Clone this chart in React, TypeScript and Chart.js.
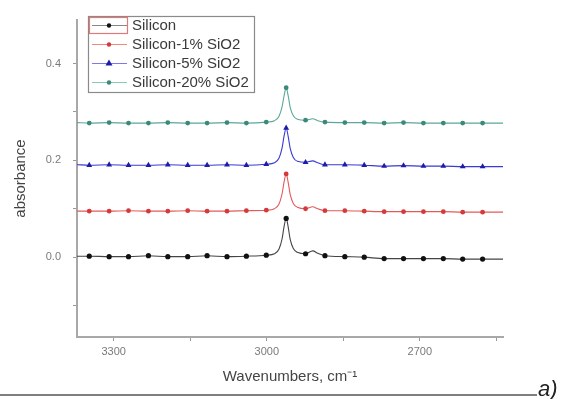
import React, { useEffect, useRef } from 'react';
import { Chart, registerables } from 'chart.js';

Chart.register(...registerables);

// Wavenumber positions (cm^-1) at which absorbance was read
const WAVENUMBERS = [3372, 3348, 3309, 3271, 3232, 3194, 3155, 3117, 3078, 3040, 3001, 2985, 2976, 2970, 2966, 2962, 2958, 2954, 2948, 2940, 2924, 2910, 2900, 2886, 2847, 2809, 2770, 2732, 2693, 2654, 2616, 2577, 2537];
// Positions carrying a symbol marker
const MARKER_WAVENUMBERS = [3348, 3309, 3271, 3232, 3194, 3155, 3117, 3078, 3040, 3001, 2962, 2924, 2886, 2847, 2809, 2770, 2732, 2693, 2654, 2616, 2577];

const SERIES_LABELS = ['Silicon', 'Silicon-1% SiO2', 'Silicon-5% SiO2', 'Silicon-20% SiO2'];

const SILICON = [0.002, 0.002, 0.001, 0.001, 0.003, 0.001, 0.001, 0.003, 0.001, 0.002, 0.004, 0.007, 0.017, 0.038, 0.064, 0.080, 0.062, 0.036, 0.018, 0.010, 0.007, 0.013, 0.008, 0.003, 0.001, 0.000, -0.003, -0.003, -0.003, -0.003, -0.004, -0.004, -0.004];
const SILICON_1 = [0.095, 0.095, 0.095, 0.096, 0.095, 0.095, 0.096, 0.095, 0.095, 0.096, 0.097, 0.100, 0.110, 0.131, 0.156, 0.172, 0.154, 0.129, 0.111, 0.103, 0.100, 0.104, 0.100, 0.096, 0.096, 0.095, 0.094, 0.094, 0.094, 0.094, 0.093, 0.093, 0.093];
const SILICON_5 = [0.191, 0.190, 0.191, 0.190, 0.190, 0.191, 0.190, 0.190, 0.191, 0.190, 0.192, 0.195, 0.205, 0.226, 0.251, 0.267, 0.249, 0.224, 0.206, 0.198, 0.196, 0.199, 0.195, 0.191, 0.191, 0.190, 0.188, 0.189, 0.188, 0.188, 0.187, 0.187, 0.187];
const SILICON_20 = [0.278, 0.277, 0.278, 0.277, 0.277, 0.278, 0.277, 0.277, 0.278, 0.277, 0.279, 0.282, 0.291, 0.311, 0.334, 0.350, 0.333, 0.309, 0.292, 0.285, 0.283, 0.286, 0.282, 0.279, 0.278, 0.278, 0.277, 0.278, 0.277, 0.277, 0.277, 0.277, 0.277];

const X_MIN = 2537;
const X_MAX = 3372;
const X_TICK_LABELS = [3300, 3000, 2700];
const Y_MIN = -0.165;
const Y_MAX = 0.49;
const Y_TICK_LABELS = [0.0, 0.2, 0.4];

const FONT = '"Liberation Sans", Arial, sans-serif';

const SERIES_VALUES = [SILICON, SILICON_1, SILICON_5, SILICON_20];
const LINE_COLORS = ['#444444', '#e25a5a', '#3a3ad6', '#5aa898'];
const LEGEND_LINE_COLORS = ['#888888', '#f08a78', '#7a7aee', '#8ac8b8'];
const POINT_COLORS = ['#111111', '#d43a3a', '#1c1ca8', '#3a8a7a'];
const POINT_STYLES = ['circle', 'circle', 'triangle', 'circle'];
const POINT_SIZES = [2.6, 2.4, 3.4, 2.4];

const legendPlugin = {
  id: 'insideLegend',
  afterDatasetsDraw(chart: any) {
    const ctx = chart.ctx;
    ctx.save();
    // box
    ctx.fillStyle = '#ffffff';
    ctx.fillRect(88, 16, 166, 76);
    ctx.strokeStyle = '#8a8a8a';
    ctx.lineWidth = 1.2;
    ctx.strokeRect(88.5, 16.5, 166, 76);
    const rows = [25, 44, 63, 82];
    chart.data.datasets.forEach((ds: any, i: number) => {
      const y = rows[i];
      ctx.strokeStyle = LEGEND_LINE_COLORS[i];
      ctx.lineWidth = 1;
      ctx.beginPath();
      ctx.moveTo(92, y + 0.5);
      ctx.lineTo(127, y + 0.5);
      ctx.stroke();
      ctx.fillStyle = POINT_COLORS[i];
      const mx = 109;
      if (POINT_STYLES[i] === 'triangle') {
        ctx.beginPath();
        ctx.moveTo(mx, y - 3.5);
        ctx.lineTo(mx + 3.5, y + 2.5);
        ctx.lineTo(mx - 3.5, y + 2.5);
        ctx.closePath();
        ctx.fill();
      } else {
        ctx.beginPath();
        ctx.arc(mx, y + 0.5, 2.2, 0, Math.PI * 2);
        ctx.fill();
      }
      ctx.fillStyle = '#3a3a3a';
      ctx.font = `15px ${FONT}`;
      ctx.textBaseline = 'middle';
      ctx.textAlign = 'left';
      ctx.fillText(ds.label, 132, y + 1);
    });
    // red selection rectangle around first sample
    ctx.strokeStyle = '#e07a7a';
    ctx.lineWidth = 1.2;
    ctx.strokeRect(89.5, 17.5, 38, 16);
    ctx.restore();
  },
};

const decorPlugin = {
  id: 'decor',
  afterDraw(chart: any) {
    const ctx = chart.ctx;
    ctx.save();
    ctx.strokeStyle = '#555555';
    ctx.lineWidth = 1.5;
    ctx.beginPath();
    ctx.moveTo(0, 395);
    ctx.lineTo(537, 395);
    ctx.stroke();
    ctx.fillStyle = '#222222';
    ctx.font = `italic 22px ${FONT}`;
    ctx.textAlign = 'left';
    ctx.textBaseline = 'alphabetic';
    ctx.fillText('a)', 538, 396);
    ctx.restore();
  },
};

export default function App() {
  const canvasRef = useRef<HTMLCanvasElement | null>(null);

  useEffect(() => {
    const canvas = canvasRef.current;
    if (!canvas) return;
    const datasets = SERIES_LABELS.map((label, i) => ({
      label,
      data: WAVENUMBERS.map((x, j) => ({ x, y: SERIES_VALUES[i][j] })),
      borderColor: LINE_COLORS[i],
      borderWidth: 1.1,
      backgroundColor: POINT_COLORS[i],
      pointBackgroundColor: POINT_COLORS[i],
      pointBorderColor: POINT_COLORS[i],
      pointBorderWidth: 0,
      pointStyle: POINT_STYLES[i],
      pointRadius: (c: any) => (c.raw && MARKER_WAVENUMBERS.includes(c.raw.x) ? POINT_SIZES[i] : 0),
      pointHoverRadius: 0,
      cubicInterpolationMode: 'monotone',
      fill: false,
    }));

    const chart = new Chart(canvas, {
      type: 'line',
      data: { datasets } as any,
      options: {
        animation: false,
        responsive: false,
        devicePixelRatio: 1,
        layout: { padding: { top: 20, right: 60, left: 0, bottom: 0 } },
        plugins: { legend: { display: false }, tooltip: { enabled: false } },
        scales: {
          x: {
            type: 'linear',
            reverse: true,
            min: X_MIN,
            max: X_MAX,
            afterFit: (s: any) => {
              s.height = 62;
            },
            ticks: {
              stepSize: 150,
              includeBounds: false,
              autoSkip: false,
              maxRotation: 0,
              padding: 4,
              color: '#7a7a7a',
              font: { size: 11, family: FONT },
              callback: (v: any) => (X_TICK_LABELS.includes(Number(v)) ? String(v) : ''),
            },
            grid: { drawOnChartArea: false, drawTicks: true, tickLength: 4, color: '#999999', lineWidth: 1 },
            border: { display: true, color: '#a8a8a8', width: 2 },
            title: {
              display: true,
              text: 'Wavenumbers, cm\u207B\u00B9',
              color: '#444444',
              font: { size: 15, family: FONT },
              padding: { top: 0, bottom: 13 },
            },
          },
          y: {
            type: 'linear',
            min: Y_MIN,
            max: Y_MAX,
            afterFit: (s: any) => {
              s.width = 77;
            },
            ticks: {
              stepSize: 0.1,
              includeBounds: false,
              autoSkip: false,
              padding: 12,
              color: '#7a7a7a',
              font: { size: 11, family: FONT },
              callback: (v: any) =>
                Y_TICK_LABELS.some((t) => Math.abs(t - Number(v)) < 1e-6) ? Number(v).toFixed(1) : '',
            },
            grid: { drawOnChartArea: false, drawTicks: true, tickLength: 4, color: '#999999', lineWidth: 1 },
            border: { display: true, color: '#a8a8a8', width: 2 },
            title: {
              display: true,
              text: 'absorbance',
              color: '#444444',
              font: { size: 15, family: FONT },
              padding: { top: 12, bottom: 0 },
            },
          },
        },
      } as any,
      plugins: [legendPlugin, decorPlugin],
    });
    return () => chart.destroy();
  }, []);

  return (
    <div style={{ position: 'absolute', left: 0, top: 0, width: 563, height: 399, background: '#ffffff' }}>
      <canvas ref={canvasRef} width={563} height={399} style={{ display: 'block', width: 563, height: 399 }} />
    </div>
  );
}
